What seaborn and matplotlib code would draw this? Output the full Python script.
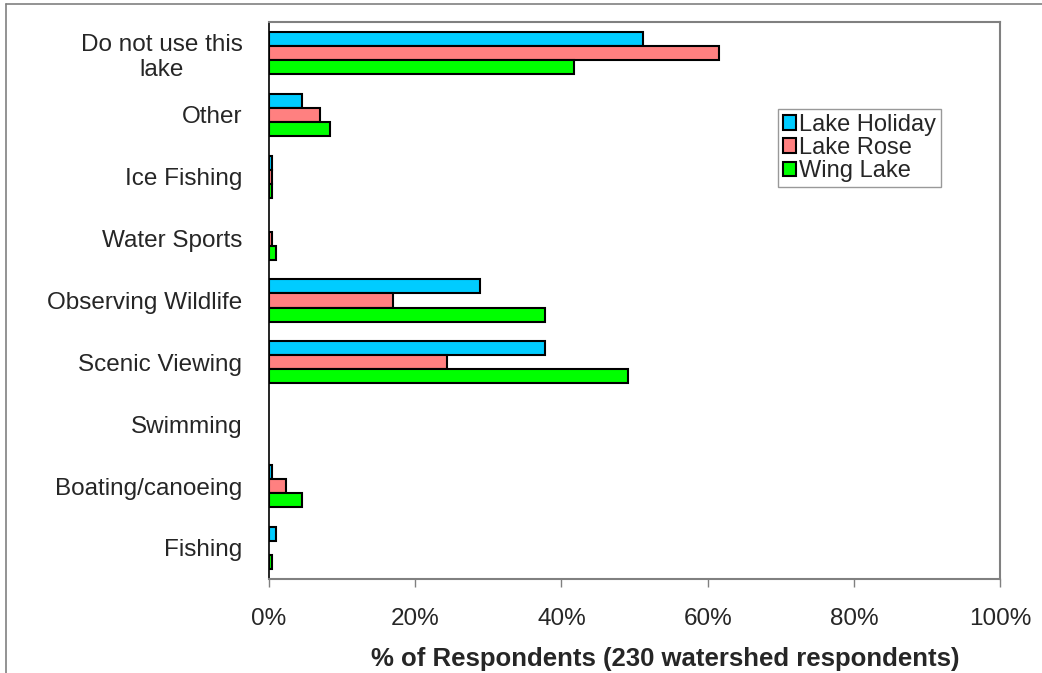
import matplotlib
matplotlib.use("Agg")
import matplotlib.pyplot as plt
from matplotlib.lines import Line2D
from matplotlib.ticker import PercentFormatter
import seaborn as sns
import pandas as pd

# survey answers, top to bottom as on the chart
activities = ['Do not use this\nlake', 'Other', 'Ice Fishing', 'Water Sports',
              'Observing Wildlife', 'Scenic Viewing', 'Swimming',
              'Boating/canoeing', 'Fishing']
lakes = ['Lake Holiday', 'Lake Rose', 'Wing Lake']

# % of respondents
lake_holiday = [51.2, 4.5, 0.4, 0.0, 28.8, 37.8, 0.0, 0.4, 1.0]
lake_rose = [61.5, 7.0, 0.4, 0.4, 17.0, 24.4, 0.0, 2.3, 0.0]
wing_lake = [41.7, 8.4, 0.4, 1.0, 37.8, 49.1, 0.0, 4.5, 0.4]

colors = ['#00CCFF', '#FF8080', '#00FF00']

df = pd.DataFrame({
    'activity': activities * 3,
    'lake': [lakes[0]] * 9 + [lakes[1]] * 9 + [lakes[2]] * 9,
    'pct': lake_holiday + lake_rose + wing_lake,
})

sns.set_style('white')
plt.rcParams['font.family'] = ['Liberation Sans', 'DejaVu Sans']

fig = plt.figure(figsize=(10.42, 6.73), dpi=100)
ax = fig.add_axes([0.258, 0.140, 0.702, 0.827])

sns.barplot(data=df, x='pct', y='activity', hue='lake', order=activities,
            hue_order=lakes, palette=colors, orient='h', width=0.68,
            edgecolor='black', linewidth=1.5, saturation=1, errorbar=None, ax=ax)

# zero bars show nothing in the original
for p in ax.patches:
    if p.get_width() == 0:
        p.set_visible(False)

ax.set_xlim(0, 100)
ax.set_ylim(8.5, -0.5)
ax.set_xticks([0, 20, 40, 60, 80, 100])
ax.xaxis.set_major_formatter(PercentFormatter(decimals=0))
ax.tick_params(axis='x', direction='out', length=6, width=1, color='#808080',
               labelsize=17.5, pad=15, bottom=True)
ax.tick_params(axis='y', length=0, labelsize=17.5, pad=19)
for lab in ax.get_yticklabels():
    lab.set_multialignment('center')

for side in ['top', 'right', 'bottom']:
    ax.spines[side].set_color('#808080')
    ax.spines[side].set_linewidth(1.5)
ax.spines['left'].set_color('black')
ax.spines['left'].set_linewidth(1.2)

ax.set_ylabel('')
ax.set_xlabel('% of Respondents (230 watershed respondents)', fontsize=18.5,
              fontweight='bold', labelpad=12)
# title sits a bit right of the axis centre in the original
ax.xaxis.set_label_coords(0.542, -0.122)

handles = [plt.Rectangle((0, 0), 1, 1, facecolor=c, edgecolor='black', linewidth=1.5)
           for c in colors]
leg = ax.legend(handles, lakes, loc='upper left', bbox_to_anchor=(0.696, 0.844),
                fontsize=17, frameon=True, fancybox=False, borderpad=0.2,
                labelspacing=0.05, handlelength=0.55, handleheight=0.55,
                handletextpad=0.15, borderaxespad=0)
leg.get_frame().set_edgecolor('#808080')
leg.get_frame().set_linewidth(1)

# outer chart frame (top and left edges only)
fig.add_artist(Line2D([0.006, 1.0], [0.994, 0.994], color='#808080', lw=1.2))
fig.add_artist(Line2D([0.006, 0.006], [0.0, 0.994], color='#808080', lw=1.2))

fig.savefig('out.png', dpi=100)
